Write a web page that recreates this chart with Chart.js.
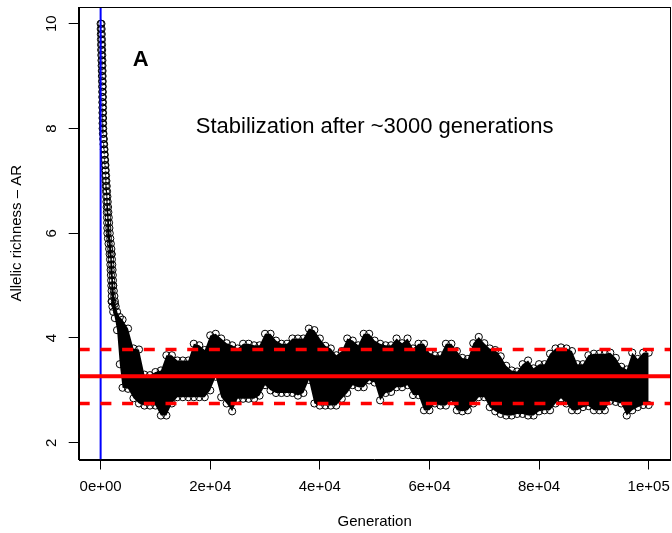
<!DOCTYPE html>
<html><head><meta charset="utf-8">
<script src="https://cdn.jsdelivr.net/npm/chart.js@4/dist/chart.umd.min.js"></script>
<style>html,body{margin:0;padding:0;background:#fff;}#wrap{width:672px;height:533px;}</style>
</head><body><div id="wrap"><canvas id="c" width="672" height="533"></canvas></div>
<script>
// ---- data ----
// early decline: allelic richness levels (0.1 steps) and the generations at the left / right side of the chain
const decayAR = [10.0,9.9,9.8,9.7,9.6,9.5,9.4,9.3,9.2,9.1,9.0,8.9,8.8,8.7,8.6,8.5,8.4,8.3,8.2,8.1,8.0,
 7.9,7.8,7.7,7.6,7.5,7.4,7.3,7.2,7.1,7.0,6.9,6.8,6.7,6.6,6.5,6.4,6.3,6.2,6.1,6.0,
 5.9,5.8,5.7,5.6,5.5,5.4,5.3,5.2,5.1,5.0,4.9,4.8,4.7,4.6];
const decayGenLeft = [0,20,40,60,80,100,130,160,190,220,240,260,280,300,310,320,330,340,350,360,370,
 420,480,540,600,660,720,780,820,860,900,940,980,1020,1060,1100,1140,1170,1200,1220,1240,
 1340,1450,1560,1650,1720,1780,1830,1880,1920,1960,2000,2040,2080,2150];
const decayGenRight = [150,180,210,240,260,280,300,320,330,350,360,380,390,400,410,420,430,440,445,450,460,
 520,580,640,700,760,820,880,930,990,1050,1110,1170,1230,1290,1350,1410,1480,1540,1600,1660,
 1760,1860,1950,2000,2060,2120,2170,2220,2250,2280,2400,2500,2600,2750];
// after the decline: upper and lower edge of the cloud of values
const generations = [2000,2300,2600,3000,3500,4000,
 5000,6000,7000,8000,9000,10000,11000,12000,13000,14000,15000,16000,17000,18000,19000,20000,
 21000,22000,23000,24000,25000,26000,27000,28000,29000,30000,31000,32000,33000,34000,35000,
 36000,37000,38000,39000,40000,41000,42000,43000,44000,45000,46000,47000,48000,49000,50000,
 51000,52000,53000,54000,55000,56000,57000,58000,59000,60000,61000,62000,63000,64000,65000,
 66000,67000,68000,69000,70000,71000,72000,73000,74000,75000,76000,77000,78000,79000,80000,
 81000,82000,83000,84000,85000,86000,87000,88000,89000,90000,91000,92000,93000,94000,95000,
 96000,97000,98000,99000,100000];
const arUpper = [5.6,5.0,4.65,4.5,4.4,4.35,
 4.18,3.8,3.78,3.3,3.29,3.35,3.38,3.67,3.67,3.57,3.57,3.57,3.89,3.86,3.77,4.05,
 4.08,3.99,3.9,3.86,3.8,3.89,3.89,3.86,3.86,4.08,4.08,3.95,3.89,3.89,3.99,
 3.99,3.99,4.18,4.15,3.99,3.85,3.8,3.67,3.75,3.99,3.95,3.86,4.08,4.08,3.95,
 3.89,3.86,3.86,3.99,3.9,3.99,3.8,3.89,3.89,3.72,3.67,3.67,3.89,3.89,3.75,
 3.62,3.6,3.9,4.02,3.9,3.8,3.77,3.65,3.47,3.38,3.36,3.5,3.57,3.42,3.5,
 3.5,3.7,3.8,3.82,3.8,3.75,3.5,3.5,3.67,3.7,3.7,3.7,3.72,3.62,3.45,
 3.4,3.72,3.6,3.72,3.72];
const arLower = [4.7,4.5,4.38,4.15,3.5,3.05,
 3.03,2.85,2.75,2.71,2.71,2.71,2.52,2.52,2.75,2.87,2.87,2.87,2.87,2.87,2.87,3.0,
 3.26,2.87,2.75,2.6,2.84,2.84,2.84,2.84,2.9,3.1,3.0,2.95,2.95,2.95,2.95,
 2.9,2.95,3.2,2.75,2.71,2.71,2.71,2.71,2.84,2.95,3.1,3.06,3.06,3.19,3.15,
 2.81,2.95,2.97,3.06,3.06,3.1,2.91,2.91,2.62,2.62,2.75,2.71,2.71,2.8,2.62,
 2.6,2.62,2.75,2.87,2.87,2.68,2.6,2.55,2.52,2.52,2.55,2.55,2.52,2.52,2.6,
 2.62,2.62,2.75,2.85,2.75,2.62,2.62,2.68,2.7,2.62,2.62,2.62,2.8,2.78,2.75,
 2.52,2.62,2.68,2.72,2.72];
const meanAR = 3.27;
const upperLimitAR = 3.78;
const lowerLimitAR = 2.75;
const stabilizationMarker = 0;
const xTicks = [0,20000,40000,60000,80000,100000];
const xTickLabels = ["0e+00","2e+04","4e+04","6e+04","8e+04","1e+05"];
const yTicks = [2,4,6,8,10];
const yTickLabels = ["2","4","6","8","10"];
const xRange = [-4000,104000];
const yRange = [1.68,10.32];
const xTitle = "Generation";
const yTitle = "Allelic richness \u2013 AR";
const panelLabel = "A";
const panelLabelAt = [7300, 9.3];
const noteText = "Stabilization after ~3000 generations";
const noteAt = [50000, 8.03];

// ---- chart ----
const FONT = "'Liberation Sans', Arial, sans-serif";
const pts = (xs, ys) => xs.map((g,i)=>({x:g,y:ys[i]}));
const hline = (v) => [{x:xRange[0],y:v},{x:xRange[1],y:v}];
const circ = {pointRadius:3.6, pointBorderWidth:1, pointBorderColor:'#000', pointBackgroundColor:'rgba(0,0,0,0)'};

const annot = {
  id:'annot',
  afterDraw(chart){
    const {ctx, chartArea:ca, scales:{x,y}} = chart;
    ctx.save();
    ctx.strokeStyle='#000'; ctx.lineWidth=1;
    ctx.strokeRect(Math.round(ca.left)+0.5, Math.round(ca.top)+0.5, Math.round(ca.right)-Math.round(ca.left)-1, Math.round(ca.bottom)-Math.round(ca.top));
    ctx.fillStyle='#000';
    ctx.font = "15px "+FONT;
    ctx.textAlign='center'; ctx.textBaseline='middle';
    yTicks.forEach((v,i)=>{
      const py = y.getPixelForValue(v);
      ctx.save(); ctx.translate(52, py); ctx.rotate(-Math.PI/2);
      ctx.fillText(yTickLabels[i],0,0); ctx.restore();
    });
    ctx.font = "bold 22px "+FONT;
    ctx.fillText(panelLabel, x.getPixelForValue(panelLabelAt[0]), y.getPixelForValue(panelLabelAt[1]));
    ctx.font = "22px "+FONT;
    ctx.fillText(noteText, x.getPixelForValue(noteAt[0]), y.getPixelForValue(noteAt[1]));
    ctx.restore();
  }
};

new Chart(document.getElementById('c'), {
  type:'line',
  data:{datasets:[
    {data:hline(meanAR), borderColor:'#ff0000', borderWidth:3.8, pointRadius:0, fill:false},
    {data:hline(upperLimitAR), borderColor:'#ff0000', borderWidth:3.6, borderDash:[11,10.7], pointRadius:0, fill:false},
    {data:hline(lowerLimitAR), borderColor:'#ff0000', borderWidth:3.6, borderDash:[11,10.7], pointRadius:0, fill:false},
    {data:[{x:stabilizationMarker,y:yRange[0]},{x:stabilizationMarker,y:yRange[1]}], borderColor:'#0000ff', borderWidth:2, pointRadius:0, fill:false},
    Object.assign({data:pts(generations,arUpper), borderWidth:0, borderColor:'#000', fill:false}, circ),
    Object.assign({data:pts(generations,arLower), borderWidth:0, borderColor:'#000', backgroundColor:'#000', fill:'-1'}, circ),
    Object.assign({data:pts(decayGenLeft,decayAR), borderWidth:0, borderColor:'#000', fill:false}, circ),
    Object.assign({data:pts(decayGenRight,decayAR), borderWidth:0, borderColor:'#000', backgroundColor:'#000', fill:'-1'}, circ)
  ]},
  options:{
    responsive:false, animation:false, devicePixelRatio:1,
    layout:{autoPadding:false, padding:{top:7,right:1.4,left:0,bottom:0}},
    plugins:{legend:{display:false}, tooltip:{enabled:false}},
    elements:{line:{tension:0}},
    scales:{
      x:{type:'linear', min:xRange[0], max:xRange[1],
        afterBuildTicks:s=>{s.ticks = xTicks.map(v=>({value:v}));},
        afterFit:s=>{s.height = 73.5; s.paddingLeft = 0; s.paddingRight = 0;},
        ticks:{autoSkip:false, maxRotation:0, minRotation:0, color:'#000', padding:8,
          font:{family:FONT, size:15}, callback:(v,i)=>xTickLabels[i]},
        grid:{drawOnChartArea:false, drawTicks:true, tickLength:10, color:'#000', lineWidth:1},
        border:{display:true, color:'#000', width:1},
        title:{display:true, text:xTitle, color:'#000', font:{family:FONT, size:15}, padding:{top:0,bottom:2}}
      },
      y:{type:'linear', min:yRange[0], max:yRange[1],
        afterBuildTicks:s=>{s.ticks = yTicks.map(v=>({value:v}));},
        afterFit:s=>{s.width = 78.7; s.paddingTop = 0; s.paddingBottom = 0;},
        ticks:{display:false},
        grid:{drawOnChartArea:false, drawTicks:true, tickLength:10, color:'#000', lineWidth:1},
        border:{display:true, color:'#000', width:1},
        title:{display:true, text:yTitle, color:'#000', font:{family:FONT, size:15}, padding:{top:8.3,bottom:0}}
      }
    }
  },
  plugins:[annot]
});
</script></body></html>
